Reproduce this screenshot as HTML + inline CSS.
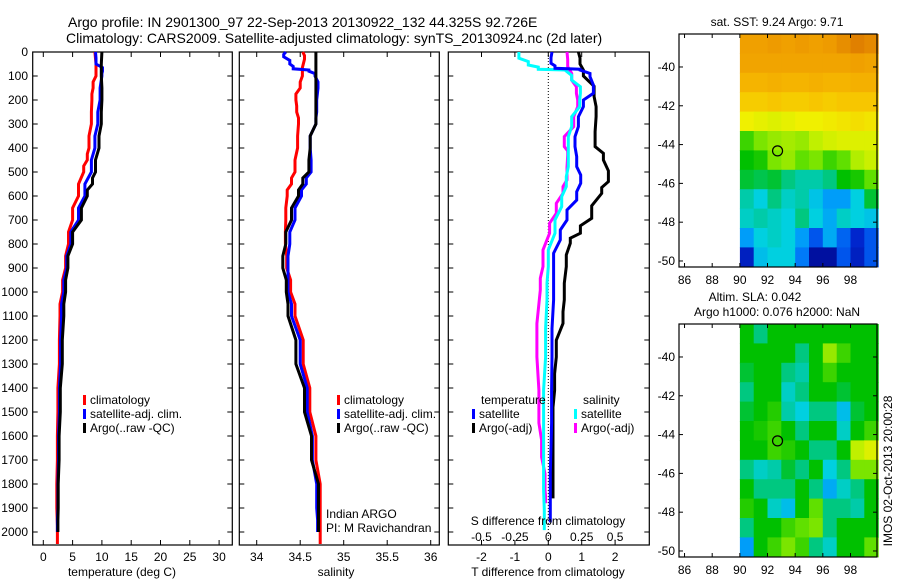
<!DOCTYPE html>
<html><head><meta charset="utf-8"><style>
html,body{margin:0;padding:0;background:#fff;}
svg{display:block;font-family:"Liberation Sans",sans-serif;}
text{fill:#000;}
</style></head><body>
<svg id="fig" width="900" height="580" viewBox="0 0 900 580" xmlns="http://www.w3.org/2000/svg">
<text x="68" y="27" font-size="14">Argo profile: IN 2901300_97 22-Sep-2013 20130922_132 44.325S 92.726E</text>
<text x="66" y="43" font-size="14">Climatology: CARS2009. Satellite-adjusted climatology: synTS_20130924.nc (2d later)</text>
<text x="777" y="26" font-size="12" text-anchor="middle">sat. SST: 9.24  Argo: 9.71</text>
<text x="755" y="301" font-size="12" text-anchor="middle">Altim. SLA: 0.042</text>
<text x="777" y="316" font-size="12" text-anchor="middle">Argo h1000: 0.076 h2000: NaN</text>
<text x="0" y="0" font-size="12" text-anchor="middle" transform="translate(892,471) rotate(-90)">IMOS 02-Oct-2013 20:00:28</text>
</svg>
<script>
// ---------- data ----------
const depthTicks = [0,100,200,300,400,500,600,700,800,900,1000,1100,1200,1300,1400,1500,1600,1700,1800,1900,2000];
const tempTicks = [0,5,10,15,20,25,30];
const salTicks = [34,34.5,35,35.5,36];
const salTickLabels = ["34","34.5","35","35.5","36"];
const tdiffTicks = [-2,-1,0,1,2];
const sdiffTicks = [-0.5,-0.25,0,0.25,0.5];
const sdiffTickLabels = ["-0.5","-0.25","0","0.25","0.5"];

const tClimDepth = [0,100,150,200,300,400,450,500,600,700,800,900,1000,1100,1300,1500,1700,1900,2050];
const tClim = [8.8,9.0,8.5,8.3,8.2,7.8,7.5,6.9,6.0,5.0,4.3,3.8,3.3,2.85,2.75,2.5,2.4,2.3,2.4];
const tSatDepth = [0,50,80,100,200,300,400,500,600,700,800,900,1000,1100,1300,1500,1700,1900,2000];
const tSat = [8.9,9.0,10.1,10.0,9.7,9.3,8.8,8.2,7.1,6.0,4.7,4.0,3.5,3.1,2.95,2.75,2.6,2.5,2.4];
const tArgoDepth = [0,100,200,300,400,500,550,600,700,800,900,1000,1100,1300,1500,1700,1900,2000];
const tArgo = [10.0,9.9,10.0,9.9,9.5,8.9,8.4,7.5,6.5,5.0,4.2,3.8,3.5,3.25,2.9,2.7,2.55,2.5];

const sClimDepth = [0,30,100,150,200,250,300,400,500,550,600,700,800,900,1000,1100,1300,1500,1700,1900,2050];
const sClim = [34.53,34.55,34.525,34.50,34.45,34.46,34.48,34.47,34.44,34.40,34.35,34.335,34.33,34.345,34.39,34.44,34.535,34.61,34.68,34.73,34.73];
const sSatDepth = [0,20,50,70,80,100,150,250,300,400,500,550,600,700,800,900,1000,1100,1300,1500,1700,1900,2000];
const sSat = [34.335,34.31,34.38,34.42,34.60,34.67,34.705,34.69,34.68,34.615,34.625,34.57,34.515,34.44,34.38,34.36,34.36,34.40,34.50,34.58,34.64,34.69,34.70];
const sArgoDepth = [0,300,400,500,550,600,700,800,900,1000,1100,1300,1500,1700,1900,2000];
const sArgo = [34.68,34.68,34.615,34.60,34.53,34.48,34.40,34.335,34.30,34.34,34.36,34.45,34.55,34.63,34.71,34.71];

const dTArgoDepth = [0,50,100,186,269,394,450,540,589,693,755,797,894,1033,1131,1271,1410,1550,1860];
const dTArgo = [0.9,0.95,1.05,1.37,1.43,1.4,1.65,1.8,1.6,1.3,0.96,0.66,0.54,0.48,0.44,0.24,0.19,0.14,0.14];
const dTSatDepth = [0,47,68,75,103,172,228,311,394,478,547,617,700,783,894,1033,1271,1546,1960];
const dTSat = [0.11,0.08,0.2,0.95,1.25,1.35,1.05,0.9,0.8,0.85,0.97,0.85,0.56,0.36,0.16,0.16,0.11,0.1,0.06];
const dSSatDepth = [0,26,54,72,78,117,172,228,311,394,478,561,644,755,894,1033,1271,1546,1825,1992];
const dSSat = [-0.22,-0.22,-0.15,-0.075,0.13,0.175,0.24,0.235,0.175,0.15,0.15,0.135,0.10,0.05,0.0,-0.01,-0.02,-0.035,-0.035,-0.03];
const dSArgoDepth = [0,61,117,172,228,311,394,430,533,589,672,755,894,992,1271,1546,1688,1825,1880];
const dSArgo = [0.14,0.145,0.175,0.21,0.22,0.19,0.12,0.145,0.14,0.11,0.06,0.01,-0.04,-0.06,-0.085,-0.07,-0.05,-0.025,-0.02];

const lonTicks = [86,88,90,92,94,96,98];
const latTicks = [-40,-42,-44,-46,-48,-50];
const gridLons = [90.5,91.5,92.5,93.5,94.5,95.5,96.5,97.5,98.5,99.5];
const gridLats = [-38.8,-39.8,-40.8,-41.8,-42.8,-43.8,-44.8,-45.8,-46.8,-47.8,-48.8,-49.8];
const sstGrid = [
[.86,.86,.87,.86,.87,.86,.87,.90,.93,.91],
[.85,.85,.85,.85,.85,.85,.85,.85,.86,.85],
[.81,.81,.82,.81,.81,.82,.81,.81,.82,.82],
[.76,.76,.77,.76,.76,.77,.76,.77,.77,.77],
[.70,.69,.68,.69,.70,.70,.71,.72,.73,.72],
[.55,.60,.62,.63,.62,.65,.67,.68,.68,.68],
[.50,.52,.60,.62,.58,.60,.55,.58,.64,.66],
[.48,.47,.48,.45,.42,.42,.45,.50,.52,.58],
[.42,.38,.45,.40,.42,.36,.30,.30,.38,.48],
[.40,.42,.40,.38,.45,.38,.32,.40,.38,.36],
[.30,.38,.40,.38,.30,.20,.32,.22,.12,.20],
[.10,.35,.38,.38,.25,.05,.05,.20,.10,.20]];
const slaGrid = [
[.50,.45,.50,.50,.50,.50,.50,.50,.50,.50],
[.50,.50,.50,.50,.45,.50,.62,.55,.50,.50],
[.48,.50,.50,.45,.42,.50,.55,.50,.50,.50],
[.45,.50,.50,.40,.45,.50,.50,.48,.50,.50],
[.48,.50,.53,.42,.38,.45,.45,.35,.48,.50],
[.50,.52,.55,.50,.45,.50,.50,.40,.50,.55],
[.50,.50,.55,.53,.50,.45,.45,.50,.65,.68],
[.45,.40,.42,.48,.45,.50,.38,.45,.60,.60],
[.50,.45,.45,.45,.50,.45,.32,.40,.45,.50],
[.53,.50,.40,.35,.50,.58,.45,.45,.42,.50],
[.45,.50,.50,.55,.58,.60,.45,.50,.50,.50],
[.30,.50,.55,.60,.55,.45,.40,.50,.50,.58]];
const floatLon = 92.726, floatLat = -44.325;

// ---------- helpers ----------
const NS = "http://www.w3.org/2000/svg";
const svg = document.getElementById('fig');
function mk(tag, attrs, parent){ const e=document.createElementNS(NS,tag); for(const k in attrs) e.setAttribute(k,attrs[k]); (parent||svg).appendChild(e); return e; }
const Y0=52, Y1=545;
const yD = d => Y0 + d*0.24;
const xT = t => 43.3 + 5.86*t;
const xS = s => 256.7 + 87*(s-34);
const xDT = t => 548.3 + 33.4*t;
const xDS = s => 548.3 + 33.4*4*s;

function panel(name,x0,x1,xticks,xf,xlabels,showDepth){
  const g=mk('g',{});
  
  
  const r=mk('rect',{x:x0,y:Y0,width:x1-x0,height:Y1-Y0,fill:'none',stroke:'#000','stroke-width':1.2},g);
  
  
  depthTicks.forEach(d=>{
    const y=yD(d);
    const t1=mk('line',{x1:x0,x2:x0+5,y1:y,y2:y,stroke:'#000'},g);
    
    
    mk('line',{x1:x1-5,x2:x1,y1:y,y2:y,stroke:'#000'},g);
    if(showDepth){
      const tx=mk('text',{x:28,y:y+4,'font-size':12,'text-anchor':'end'},g);
      
      
      tx.textContent=d;
    }
  });
  xticks.forEach((v,i)=>{
    const x=xf(v);
    const t=mk('line',{x1:x,x2:x,y1:Y1-5,y2:Y1,stroke:'#000'},g);
    
    
    mk('line',{x1:x,x2:x,y1:Y0,y2:Y0+5,stroke:'#000'},g);
    if(xlabels){
      const tx=mk('text',{x:x,y:561,'font-size':12,'text-anchor':'middle'},g);
      
      
      tx.textContent=xlabels[i];
    }
  });
  return g;
}
function series(name,depths,vals,xf,color){
  const pts=[];
  for(let i=0;i<vals.length;i++){
    const x=xf(vals[i]).toFixed(1);
    if(i>0) pts.push(x+','+yD((depths[i-1]+depths[i])/2).toFixed(1));
    pts.push(x+','+yD(depths[i]).toFixed(1));
  }
  const p=mk('polyline',{points:pts.join(' '),fill:'none',stroke:color,'stroke-width':3,'stroke-linejoin':'miter'});
  
  
}
function label(name,x,y,txt,anchor){
  const t=mk('text',{x:x,y:y,'font-size':12,'text-anchor':anchor||'start'});
  
  
  t.textContent=txt;
}
function legendItem(name,x,y,color,txt){
  const r=mk('rect',{x:x,y:y-9,width:3,height:10,fill:color});
  
  
  label(name,x+7,y,txt);
}

// ---------- panel 1: temperature ----------
panel('temperature-panel',32.7,232.3,tempTicks,xT,tempTicks.map(String),true);
series('temp-climatology-line',tClimDepth,tClim,xT,'#ff0000');
series('temp-satellite-line',tSatDepth,tSat,xT,'#0000ff');
series('temp-argo-line',tArgoDepth,tArgo,xT,'#000000');
label('temperature-axis-title',122,576,'temperature (deg C)','middle');
legendItem('legend-climatology',83,404,'#ff0000','climatology');
legendItem('legend-satellite',83,418,'#0000ff','satellite-adj. clim.');
legendItem('legend-argo',83,432,'#000000','Argo(..raw -QC)');

// ---------- panel 2: salinity ----------
panel('salinity-panel',239.3,439.3,salTicks,xS,salTickLabels,false);
series('sal-climatology-line',sClimDepth,sClim,xS,'#ff0000');
series('sal-satellite-line',sSatDepth,sSat,xS,'#0000ff');
series('sal-argo-line',sArgoDepth,sArgo,xS,'#000000');
label('salinity-axis-title',336,576,'salinity','middle');
legendItem('legend-sal-climatology',337,404,'#ff0000','climatology');
legendItem('legend-sal-satellite',337,418,'#0000ff','satellite-adj. clim.');
legendItem('legend-sal-argo',337,432,'#000000','Argo(..raw -QC)');
label('indian-argo-note',326,518,'Indian ARGO');
label('pi-note',326,532,'PI: M Ravichandran');

// ---------- panel 3: differences ----------
panel('difference-panel',448.3,649.3,tdiffTicks,xDT,tdiffTicks.map(String),false);
const zl=mk('line',{x1:xDT(0),x2:xDT(0),y1:Y0,y2:Y1,stroke:'#000','stroke-dasharray':'1,2'});


series('dS-argo-line',dSArgoDepth,dSArgo,xDS,'#ff00ff');
series('dS-satellite-line',dSSatDepth,dSSat,xDS,'#00ffff');
series('dT-argo-line',dTArgoDepth,dTArgo,xDT,'#000000');
series('dT-satellite-line',dTSatDepth,dTSat,xDT,'#0000ff');
sdiffTicks.forEach((v,i)=>{ label('s-diff-tick-label',xDS(v),541,sdiffTickLabels[i],'middle'); });
label('s-diff-axis-title',548,525,'S difference from climatology','middle');
label('t-diff-axis-title',548,576,'T difference from climatology','middle');
label('legend-temperature-heading',481,404,'temperature');
legendItem('legend-dT-satellite',472,418,'#0000ff','satellite');
legendItem('legend-dT-argo',472,432,'#000000','Argo(-adj)');
label('legend-salinity-heading',583,404,'salinity');
legendItem('legend-dS-satellite',574,418,'#00ffff','satellite');
legendItem('legend-dS-argo',574,432,'#ff00ff','Argo(-adj)');

// ---------- maps ----------
const stops=[[0,[0,0,128]],[0.15,[0,48,224]],[0.28,[0,144,255]],[0.38,[0,208,224]],[0.45,[0,200,128]],[0.5,[0,192,0]],[0.58,[96,224,0]],[0.65,[192,240,0]],[0.7,[240,240,0]],[0.78,[248,192,0]],[0.86,[240,160,0]],[1,[208,96,0]]];
function cmap(v){
  for(let i=1;i<stops.length;i++){ if(v<=stops[i][0]){ const a=stops[i-1],b=stops[i],f=(v-a[0])/(b[0]-a[0]); return 'rgb('+a[1].map((c,k)=>Math.round(c+f*(b[1][k]-c))).join(',')+')'; } }
  return 'rgb(208,96,0)';
}
function mapPanel(name,top,grid){
  const x0=679,x1=877,bot=top+233;
  const xL=lon=>x0+(lon-85.6)*13.83;
  const yL=lat=>top+(-38.3-lat)*19.4;
  const g=mk('g',{});
  
  
  grid.forEach((row,r)=>row.forEach((v,c)=>{
    const rc=mk('rect',{x:xL(gridLons[c]-0.5).toFixed(1),y:yL(gridLats[r]+0.5).toFixed(1),width:14.4,height:20,fill:cmap(v)},g);
    
    
  }));
  const cl=mk('rect',{x:x0,y:bot,width:x1-x0+1,height:12,fill:'#fff'},g);
  
  
  const fr=mk('rect',{x:x0,y:top,width:x1-x0,height:bot-top,fill:'none',stroke:'#000','stroke-width':1.2},g);
  
  
  lonTicks.forEach(lon=>{
    const x=xL(lon);
    mk('line',{x1:x,x2:x,y1:bot-4,y2:bot,stroke:'#000'},g);
    mk('line',{x1:x,x2:x,y1:top,y2:top+4,stroke:'#000'},g);
    const t=mk('text',{x:x,y:bot+17,'font-size':12,'text-anchor':'middle'},g);
    
    
    t.textContent=lon;
  });
  latTicks.forEach(lat=>{
    const y=yL(lat);
    mk('line',{x1:x0,x2:x0+4,y1:y,y2:y,stroke:'#000'},g);
    mk('line',{x1:x1-4,x2:x1,y1:y,y2:y,stroke:'#000'},g);
    const t=mk('text',{x:675,y:y+4,'font-size':12,'text-anchor':'end'},g);
    
    
    t.textContent=lat;
  });
  const c=mk('circle',{cx:xL(floatLon),cy:yL(floatLat),r:5,fill:'none',stroke:'#000','stroke-width':1.2},g);
  
  
}
mapPanel('sst-map',34,sstGrid);
mapPanel('sla-map',324,slaGrid);
</script>
</body></html>
